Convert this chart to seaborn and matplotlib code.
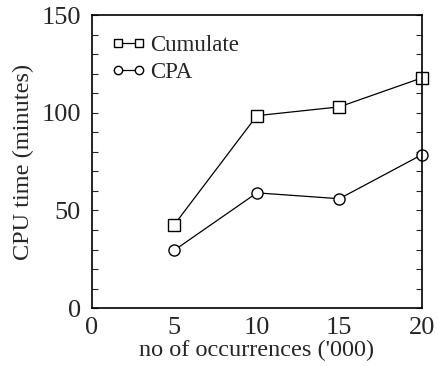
import matplotlib

matplotlib.use("Agg")
import matplotlib.pyplot as plt
import pandas as pd
import seaborn as sns
from matplotlib.ticker import MultipleLocator

occurrences = [5, 10, 15, 20]
cumulate_minutes = [42.8, 98.5, 103.0, 117.8]
cpa_minutes = [29.7, 59.0, 56.0, 78.5]
series_names = ["Cumulate", "CPA"]

plot_data = pd.DataFrame(
    {
        "occurrences": occurrences * 2,
        "minutes": cumulate_minutes + cpa_minutes,
        "method": [series_names[0]] * 4 + [series_names[1]] * 4,
    }
)

sns.set_theme(style="ticks")
plt.rcParams["font.family"] = ["Liberation Serif", "DejaVu Serif"]

fig = plt.figure(figsize=(4.38, 3.66), dpi=100)
ax = fig.add_axes([0.210, 0.158, 0.753, 0.801])

sns.lineplot(
    data=plot_data,
    x="occurrences",
    y="minutes",
    hue="method",
    style="method",
    markers={"Cumulate": "s", "CPA": "o"},
    dashes=False,
    palette={"Cumulate": "black", "CPA": "black"},
    markersize=8,
    markerfacecolor="white",
    markeredgecolor="black",
    markeredgewidth=1.0,
    linewidth=0.9,
    ax=ax,
)
for line in ax.lines:
    line.set_clip_on(False)

ax.set_xlim(0, 20)
ax.set_ylim(0, 150)
ax.xaxis.set_major_locator(MultipleLocator(5))
ax.yaxis.set_major_locator(MultipleLocator(50))
ax.yaxis.set_minor_locator(MultipleLocator(10))
ax.tick_params(axis="x", length=0, labelsize=19, pad=6)
ax.tick_params(axis="y", which="both", direction="in", right=True, length=4,
               labelsize=19, width=0.8, pad=8)
for spine in ax.spines.values():
    spine.set_linewidth(1.2)
    spine.set_color("black")

ax.set_xlabel("no of occurrences ('000)", fontsize=17.5, labelpad=1)
ax.set_ylabel("CPU time (minutes)", fontsize=17.5, labelpad=5)

legend = ax.legend(
    loc="upper left",
    frameon=False,
    fontsize=16.5,
    handlelength=1.5,
    handletextpad=0.2,
    labelspacing=0.3,
    borderaxespad=0.45,
    numpoints=2,
    markerscale=0.75,
)
for handle in legend.legend_handles:
    handle.set_markerfacecolor("white")
    handle.set_markeredgecolor("black")

fig.savefig("out.png", dpi=100)
plt.close(fig)
